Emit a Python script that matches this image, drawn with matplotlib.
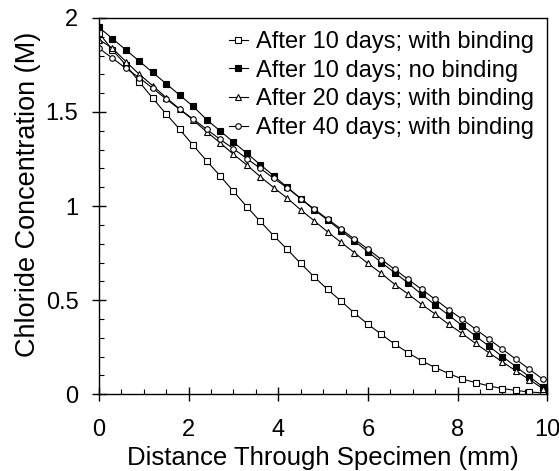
import numpy as np
import matplotlib
matplotlib.use('Agg')
import matplotlib.pyplot as plt
import matplotlib.transforms as mtransforms
from matplotlib.ticker import MultipleLocator

plt.rcParams['font.family'] = ['Liberation Sans', 'DejaVu Sans']

# distance through specimen (mm), nodes every 0.3 mm
x = np.arange(34) * 0.3

# chloride concentration (M)
c10_bind = [1.92, 1.83, 1.75, 1.66, 1.573, 1.489, 1.408, 1.323, 1.241, 1.161,
            1.078, 0.996, 0.918, 0.842, 0.77, 0.695, 0.624, 0.557, 0.495, 0.431,
            0.372, 0.318, 0.266, 0.22, 0.177, 0.142, 0.11, 0.081, 0.062, 0.044,
            0.030, 0.02, 0.012, 0.007]
c10_nobind = [1.95, 1.89, 1.83, 1.77, 1.71, 1.65, 1.59, 1.53, 1.46, 1.40,
              1.34, 1.28, 1.22, 1.16, 1.10, 1.04, 0.98, 0.926, 0.869, 0.814,
              0.757, 0.70, 0.645, 0.59, 0.53, 0.475, 0.42, 0.365, 0.31, 0.255,
              0.20, 0.147, 0.093, 0.04]
c20_bind = [1.885, 1.839, 1.768, 1.70, 1.64, 1.576, 1.516, 1.457, 1.395, 1.337,
            1.275, 1.218, 1.156, 1.098, 1.042, 0.98, 0.922, 0.863, 0.807, 0.752,
            0.695, 0.642, 0.583, 0.532, 0.477, 0.426, 0.372, 0.323, 0.27, 0.22,
            0.172, 0.124, 0.078, 0.03]
c40_bind = [1.839, 1.786, 1.732, 1.682, 1.626, 1.569, 1.514, 1.463, 1.408, 1.355,
            1.305, 1.252, 1.20, 1.147, 1.097, 1.04, 0.984, 0.931, 0.878, 0.824,
            0.771, 0.716, 0.663, 0.61, 0.557, 0.504, 0.45, 0.399, 0.346, 0.293,
            0.239, 0.186, 0.133, 0.08]

labels = ['After 10 days; with binding', 'After 10 days; no binding',
          'After 20 days; with binding', 'After 40 days; with binding']

fig = plt.figure(figsize=[5.59, 4.71], dpi=100)
ax = fig.add_axes([0.177, 0.163, 0.802, 0.799])

style = dict(color='k', lw=0.8, ms=4, mew=0.8)
ax.plot(x, c10_bind, marker='s', mfc='white', label=labels[0], **style)
ax.plot(x, c10_nobind, marker='s', mfc='black', label=labels[1], **style)
ax.plot(x, c20_bind, marker='^', mfc='white', label=labels[2], **style)
ax.plot(x, c40_bind, marker='o', mfc='white', label=labels[3], **style)

ax.set_xlim(0, 10)
ax.set_ylim(0, 2)
ax.xaxis.set_major_locator(MultipleLocator(2))
ax.xaxis.set_minor_locator(MultipleLocator(0.5))
ax.yaxis.set_minor_locator(MultipleLocator(0.1))
ax.set_yticks([0, 0.5, 1, 1.5, 2])
ax.set_yticklabels(['0', '0.5', '1', '1.5', '2'])
ax.tick_params(which='major', direction='inout', length=9.5, width=1.0,
               labelsize=17)
ax.tick_params(axis='x', which='major', pad=13)
ax.tick_params(axis='y', which='major', pad=10)
ax.tick_params(which='minor', direction='in', length=3.8, width=0.8)
for s in ax.spines.values():
    s.set_linewidth(1.0)

# nudge the last x label so it stays inside the figure
fig.canvas.draw()
last = ax.get_xticklabels()[-1]
last.set_transform(last.get_transform() +
                   mtransforms.ScaledTranslation(-4 / 72, 0, fig.dpi_scale_trans))

ax.set_xlabel('Distance Through Specimen (mm)', fontsize=18.5)
ax.set_ylabel('Chloride Concentration (M)', fontsize=19.5)
ax.xaxis.set_label_coords(0.5, -0.138)
ax.yaxis.set_label_coords(-0.13, 0.53)

ax.legend(loc='upper right', bbox_to_anchor=(0.97, 0.965), frameon=False,
          fontsize=17, handlelength=0.8, handletextpad=0.35,
          labelspacing=0.28, borderaxespad=0, borderpad=0)

plt.savefig('out.png', dpi=100)
